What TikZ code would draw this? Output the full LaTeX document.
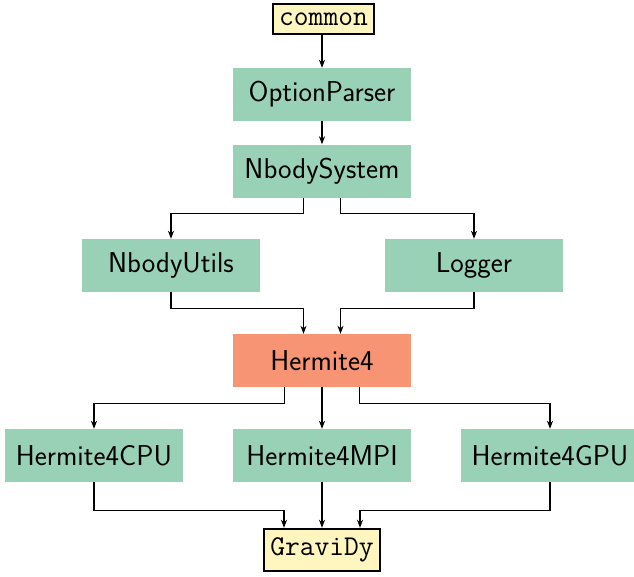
\documentclass[tikz,border=0pt]{standalone}
\usetikzlibrary{arrows.meta}
\definecolor{modgreen}{RGB}{153,209,183}
\definecolor{modsalmon}{RGB}{247,148,115}
\definecolor{modyellow}{RGB}{255,245,190}
\begin{document}
\begin{tikzpicture}[x=1pt,y=-1pt,
  mod/.style={fill=modgreen,draw=none,minimum width=178pt,minimum height=53pt,inner sep=0pt,
    font=\fontsize{28.7}{32}\selectfont\sffamily},
  core/.style={mod,fill=modsalmon},
  ext/.style={fill=modyellow,draw=black,line width=2pt,inner xsep=6.3pt,inner ysep=9pt,
    font=\fontsize{28.7}{32}\selectfont\ttfamily},
  arr/.style={-{Stealth[length=8pt,width=6pt,inset=2.5pt]},line width=1.1pt,black}]
\useasboundingbox (0,0) rectangle (634,576);
\node[ext] (common) at (323.5,19) {common};
\node[mod] (opt) at (322,94.5) {OptionParser};
\node[mod] (nsys) at (322,171) {NbodySystem};
\node[mod] (nutils) at (171,265.5) {NbodyUtils};
\node[mod] (logger) at (474,265.5) {Logger};
\node[core] (herm) at (322,360.5) {Hermite4};
\node[mod] (cpu) at (94,455.5) {Hermite4CPU};
\node[mod] (mpi) at (322,455.5) {Hermite4MPI};
\node[mod] (gpu) at (550,455.5) {Hermite4GPU};
\node[ext] (gravidy) at (322,550) {GraviDy};
\draw[arr] (common.south -| opt.north) -- (opt.north);
\draw[arr] (opt.south) -- (nsys.north);
\draw[arr] ([xshift=-18.5pt]nsys.south) -- ++(0,16) -| (nutils.north);
\draw[arr] ([xshift=18.5pt]nsys.south) -- ++(0,16) -| (logger.north);
\draw[arr] (nutils.south) -- ++(0,16) -| ([xshift=-18.5pt]herm.north);
\draw[arr] (logger.south) -- ++(0,16) -| ([xshift=18.5pt]herm.north);
\draw[arr] ([xshift=-37.5pt]herm.south) -- ++(0,16) -| (cpu.north);
\draw[arr] (herm.south) -- (mpi.north);
\draw[arr] ([xshift=37.5pt]herm.south) -- ++(0,16) -| (gpu.north);
\draw[arr] (cpu.south) |- ([xshift=-38pt,yshift=17pt]gravidy.north) -- ([xshift=-38pt]gravidy.north);
\draw[arr] (mpi.south) -- (gravidy.north);
\draw[arr] (gpu.south) |- ([xshift=38pt,yshift=17pt]gravidy.north) -- ([xshift=38pt]gravidy.north);
\end{tikzpicture}
\end{document}
